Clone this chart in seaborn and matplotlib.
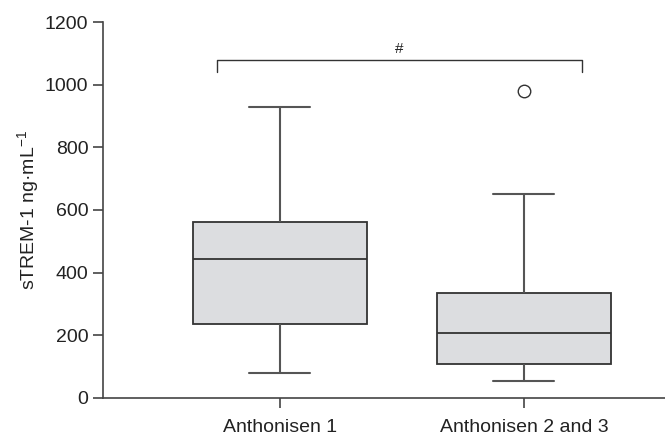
import matplotlib
matplotlib.use("Agg")
import matplotlib.pyplot as plt
import seaborn as sns
import pandas as pd

# Group labels
groups = ["Anthonisen 1", "Anthonisen 2 and 3"]
values_g1 = [81, 237, 237, 444, 444, 561, 561, 930, 930]
values_g2 = [54, 108, 108, 207, 207, 335, 335, 651, 980]
y_ticks = [0, 200, 400, 600, 800, 1000, 1200]

df = pd.DataFrame({
    "group": [groups[0]] * len(values_g1) + [groups[1]] * len(values_g2),
    "value": values_g1 + values_g2,
})

sns.set_theme(style="ticks")
plt.rcParams["font.family"] = ["Liberation Sans", "DejaVu Sans"]
plt.rcParams["mathtext.fontset"] = "custom"
plt.rcParams["mathtext.rm"] = "Liberation Sans"
plt.rcParams["mathtext.it"] = "Liberation Sans"

fig = plt.figure(figsize=(6.65, 4.36), dpi=100)
ax = fig.add_axes([0.155, 0.0872, 0.845, 0.8623])

edge = "#333333"
sns.boxplot(
    data=df, x="group", y="value", order=groups, ax=ax,
    width=0.71, color="#dcdde0", linecolor=edge, linewidth=1.3,
    whis=1.5, capwidths=0.25,
    whiskerprops=dict(color="#555555", linewidth=1.5),
    capprops=dict(color="#555555", linewidth=1.5),
    boxprops=dict(edgecolor=edge, facecolor="#dcdde0", linewidth=1.3),
    medianprops=dict(color=edge, linewidth=1.3),
    flierprops=dict(marker="o", markersize=9, markerfacecolor="white",
                    markeredgecolor="#333333", markeredgewidth=1.0),
)

ax.set_xlim(-0.725, 1.578)
ax.set_ylim(0, 1200)
ax.set_yticks(y_ticks)
ax.set_xlabel("")
ax.set_ylabel("sTREM-1 ng·mL$^{-1}$", fontsize=14, color="#222222", labelpad=3)
ax.tick_params(axis="both", labelsize=14, length=7, width=1.2, color="#444444",
               labelcolor="#222222", direction="out")
ax.tick_params(axis="x", pad=8)
for s in ["top", "right"]:
    ax.spines[s].set_visible(False)
for s in ["left", "bottom"]:
    ax.spines[s].set_color("#444444")
    ax.spines[s].set_linewidth(1.2)

# significance bracket
bx0, bx1, by, bt = -0.258, 1.236, 1079, 1041
ax.plot([bx0, bx0, bx1, bx1], [bt, by, by, bt], color="#333333", lw=1.0,
        clip_on=False)
ax.text(0.49, by + 12, "#", ha="center", va="bottom", fontsize=11, color="#222222")

fig.savefig("out.png", dpi=100)
